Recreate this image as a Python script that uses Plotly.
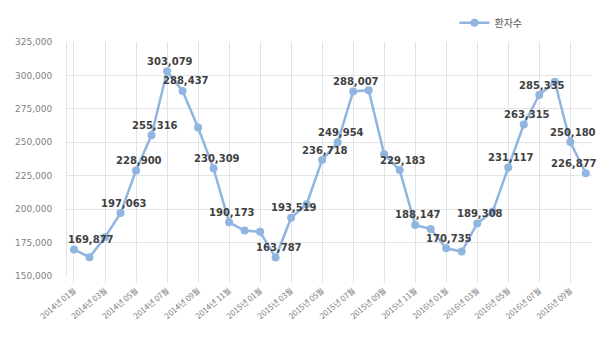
import plotly.graph_objects as go

months = [f"{y}년 {m:02d}월" for y in (2014, 2015, 2016) for m in range(1, 13)][:34]
patients = [169877, 164000, 178900, 197063, 228900, 255316, 303079, 288437, 261100, 230309,
            190173, 184000, 183000, 163787, 193519, 203700, 236718, 249954, 288007, 289000,
            241100, 229183, 188147, 185200, 170735, 168300, 189308, 198200, 231117, 263315,
            285335, 295300, 250180, 226877]
labeled = [0, 3, 4, 5, 6, 7, 9, 10, 13, 14, 16, 17, 18, 21, 22, 24, 26, 28, 29, 30, 32, 33]
yticks = [150000, 175000, 200000, 225000, 250000, 275000, 300000, 325000]
series_name = "환자수"

color = "#8fb5e0"
fig = go.Figure()
fig.add_trace(go.Scatter(
    x=months, y=patients, mode="lines+markers", name=series_name,
    line=dict(color=color, width=2.5),
    marker=dict(color=color, size=8),
))

xshift_special = {0: 17, 33: -12}
for i in labeled:
    fig.add_annotation(
        x=months[i], y=patients[i], text=f"{patients[i]:,}", showarrow=False,
        xshift=xshift_special.get(i, 3), yshift=10,
        font=dict(family="DejaVu Sans", size=10, color="#404040", weight="bold"),
    )

fig.update_layout(
    width=600, height=337,
    margin=dict(l=67, r=8, t=34, b=61),
    paper_bgcolor="white", plot_bgcolor="white",
    showlegend=True,
    legend=dict(x=0.738, y=1.02, yanchor="bottom", xanchor="left", yref="paper",
                font=dict(family="Noto Sans CJK KR", size=10, color="#595959"),
                bgcolor="rgba(0,0,0,0)", itemwidth=30),
    xaxis=dict(
        type="category", categoryorder="array", categoryarray=months,
        range=[-0.45, 33.4],
        tickvals=months[::2], ticktext=months[::2],
        tickangle=-40,
        tickfont=dict(family="Noto Sans CJK KR", size=8, color="#7f7f7f"),
        showgrid=True, gridcolor="#dfe3e8", gridwidth=1,
        ticks="outside", ticklen=6, tickcolor="#dfe3e8",
        showline=False, zeroline=False,
    ),
    yaxis=dict(
        range=[150000, 325000], tickvals=yticks,
        tickformat=",",
        tickfont=dict(family="DejaVu Sans", size=9, color="#7f7f7f"),
        showgrid=True, gridcolor="#e3e3e3", gridwidth=1,
        showline=True, linecolor="#dfe3e8", linewidth=1,
        ticklabelstandoff=12, zeroline=False,
    ),
)

fig.write_html("out.html")
